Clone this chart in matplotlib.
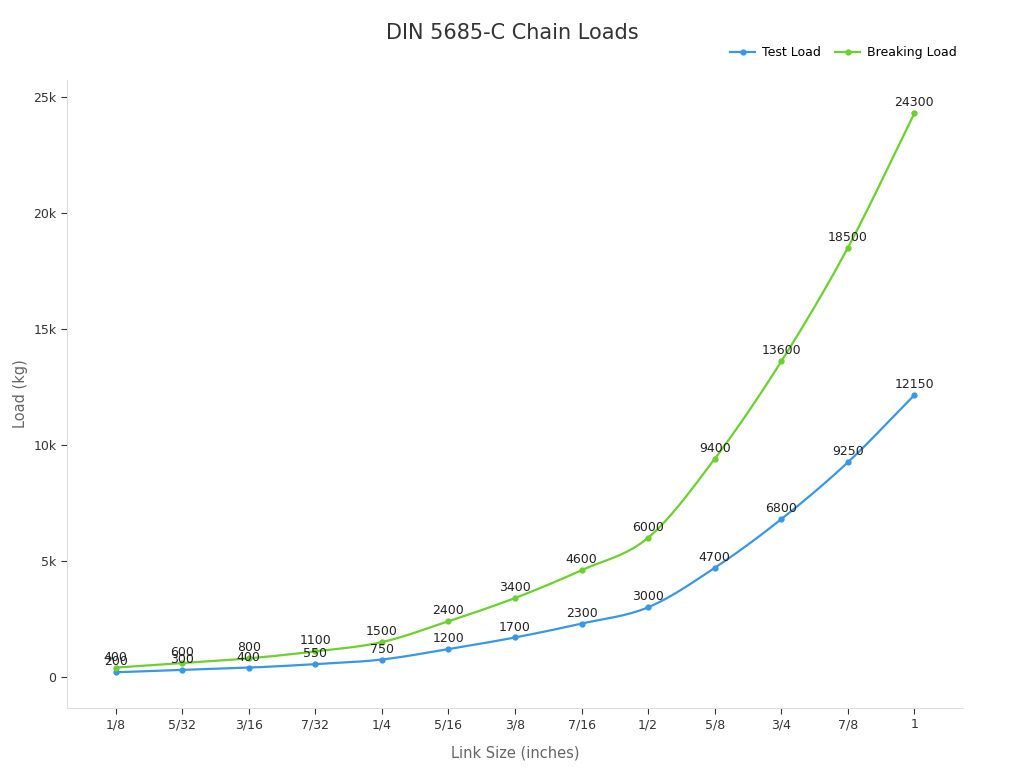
import numpy as np
import matplotlib.pyplot as plt
from matplotlib.lines import Line2D
from matplotlib.ticker import FuncFormatter

# Data
sizes = ['1/8', '5/32', '3/16', '7/32', '1/4', '5/16', '3/8', '7/16', '1/2', '5/8', '3/4', '7/8', '1']
test_load = [200, 300, 400, 550, 750, 1200, 1700, 2300, 3000, 4700, 6800, 9250, 12150]
breaking_load = [400, 600, 800, 1100, 1500, 2400, 3400, 4600, 6000, 9400, 13600, 18500, 24300]


def smooth(x, y, n=20):
    # Hermite curve through the points, for drawing only
    x = np.asarray(x, float)
    y = np.asarray(y, float)
    m = np.gradient(y, x)
    xs, ys = [], []
    for i in range(len(x) - 1):
        t = np.linspace(0, 1, n)
        h = x[i + 1] - x[i]
        h00 = 2 * t**3 - 3 * t**2 + 1
        h10 = t**3 - 2 * t**2 + t
        h01 = -2 * t**3 + 3 * t**2
        h11 = t**3 - t**2
        xs.append(x[i] + t * h)
        ys.append(h00 * y[i] + h10 * h * m[i] + h01 * y[i + 1] + h11 * h * m[i + 1])
    return np.concatenate(xs), np.concatenate(ys)


fig = plt.figure(figsize=(10.24, 7.68), dpi=100)
ax = fig.add_axes([67 / 1024, 60 / 768, 896 / 1024, 628 / 768])

xpos = np.arange(len(sizes))
handles = []
for vals, color, label in [(test_load, '#3a96e6', 'Test Load'),
                           (breaking_load, '#6bd12e', 'Breaking Load')]:
    sx, sy = smooth(xpos, vals)
    ax.plot(sx, sy, color=color, lw=1.6)
    ax.plot(xpos, vals, 'o', color=color, ms=3.5)
    handles.append(Line2D([], [], color=color, lw=1.6, marker='o', ms=3.5, label=label))
    for xi, v in zip(xpos, vals):
        ax.annotate(str(v), (xi, v), textcoords='offset points', xytext=(0, 5),
                    ha='center', fontsize=9, color='#222222')

ax.set_xlim(-0.73, 12.73)
ax.set_ylim(-1340, 25730)
ax.set_xticks(xpos)
ax.set_xticklabels(sizes)
ax.set_yticks([0, 5000, 10000, 15000, 20000, 25000])
ax.yaxis.set_major_formatter(FuncFormatter(lambda v, p: '0' if v == 0 else f'{int(v/1000)}k'))
ax.tick_params(labelsize=9, colors='#333333')
ax.tick_params(axis='both', color='#333333', length=4)
for s in ['top', 'right']:
    ax.spines[s].set_visible(False)
for s in ['left', 'bottom']:
    ax.spines[s].set_color('#dddddd')

ax.set_xlabel('Link Size (inches)', fontsize=10.5, color='#666666', labelpad=10)
ax.set_ylabel('Load (kg)', fontsize=10.5, color='#666666')
fig.text(0.5, 0.957, 'DIN 5685-C Chain Loads', ha='center', va='center', fontsize=15, color='#333333')
fig.legend(handles=handles, loc='center right', bbox_to_anchor=(0.945, 0.931), ncol=2,
           frameon=False, fontsize=9, handlelength=2, columnspacing=1.2, handletextpad=0.5)

fig.savefig('out.png', dpi=100)
